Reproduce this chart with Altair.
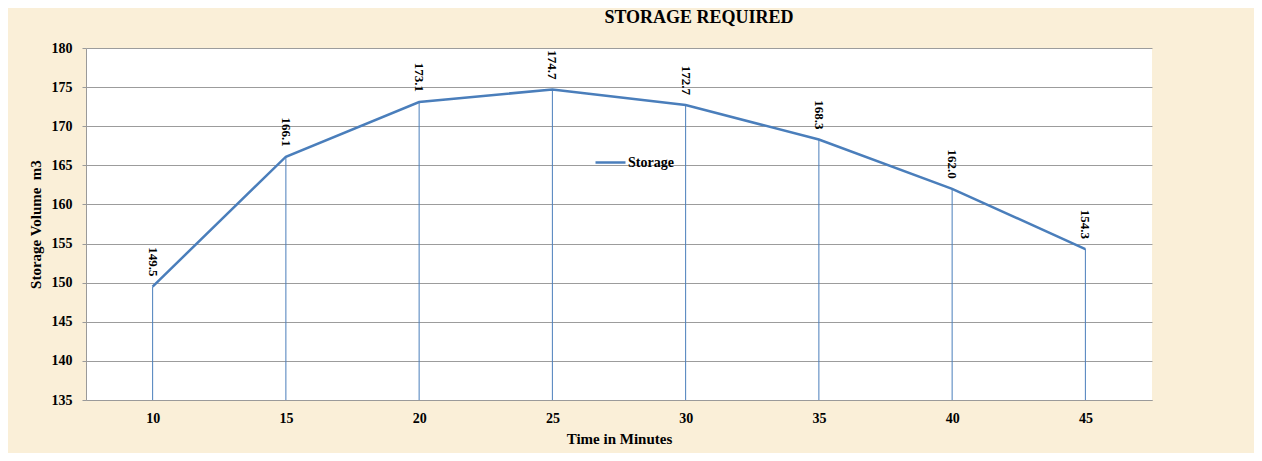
import altair as alt
import pandas as pd

minutes = [10, 15, 20, 25, 30, 35, 40, 45]
storage = [149.5, 166.1, 173.1, 174.7, 172.7, 168.3, 162.0, 154.3]
series = ["Storage"] * len(minutes)
y_ticks = [135, 140, 145, 150, 155, 160, 165, 170, 175, 180]

df = pd.DataFrame({"Time": minutes, "Storage": storage, "Series": series})

FONT = "Liberation Serif"
BLUE = "#4A7EBB"

x_enc = alt.X(
    "Time:Q",
    scale=alt.Scale(domain=[7.5, 47.5], nice=False, zero=False),
    axis=alt.Axis(
        values=minutes, title="Time in Minutes", grid=False, ticks=False, tickSize=0,
        labelPadding=11, labelFont=FONT, labelFontSize=14, labelFontWeight="bold",
        labelColor="#000000", titleFont=FONT, titleFontSize=15, titleFontWeight="bold",
        titleColor="#000000", titlePadding=6, domainColor="#9A9A9A", labelFlush=False,
    ),
)
y_enc = alt.Y(
    "Storage:Q",
    scale=alt.Scale(domain=[135, 180], nice=False, zero=False),
    axis=alt.Axis(
        values=y_ticks, title="Storage Volume\u00a0\u00a0m3", grid=True, gridColor="#9C9C9C",
        gridWidth=1, tickSize=4, tickColor="#9A9A9A", labelPadding=10, labelFont=FONT,
        labelFontSize=14, labelFontWeight="bold", labelColor="#000000", titleFont=FONT,
        titleFontSize=15, titleFontWeight="bold", titleColor="#000000", titlePadding=8,
        domainColor="#9A9A9A", labelFlush=False,
    ),
)

drops = alt.Chart(df).mark_rule(color=BLUE, strokeWidth=1).encode(
    x=x_enc, y=y_enc, y2=alt.datum(135)
)

line = alt.Chart(df).mark_line(strokeWidth=2.5).encode(
    x=x_enc,
    y=y_enc,
    color=alt.Color(
        "Series:N",
        scale=alt.Scale(domain=["Storage"], range=[BLUE]),
        legend=alt.Legend(
            title=None, orient="none", legendX=508, legendY=98, symbolType="stroke",
            symbolSize=900, symbolStrokeWidth=2.5, labelFont=FONT, labelFontSize=14,
            labelFontWeight="bold", labelColor="#000000", labelOffset=1,
        ),
    ),
)

labels = alt.Chart(df).mark_text(
    angle=90, align="right", baseline="middle", dx=-10, font=FONT, fontSize=13,
    fontWeight="bold", color="#000000",
).encode(x=x_enc, y=y_enc, text=alt.Text("Storage:Q", format=".1f"))

chart = (
    alt.layer(drops, line, labels)
    .properties(
        width=1066,
        height=352,
        autosize=alt.AutoSizeParams(type="none"),
        padding={"left": 78, "top": 40, "right": 102, "bottom": 53},
        background="#FAEFD8",
        title=alt.TitleParams(
            "STORAGE REQUIRED", font=FONT, fontSize=18, fontWeight="bold",
            color="#000000", anchor="middle", dx=80, offset=14,
        ),
    )
    .configure_view(fill="#FFFFFF", stroke=None)
)

chart.save("out.html", embed_options={"renderer": "svg", "actions": False})
